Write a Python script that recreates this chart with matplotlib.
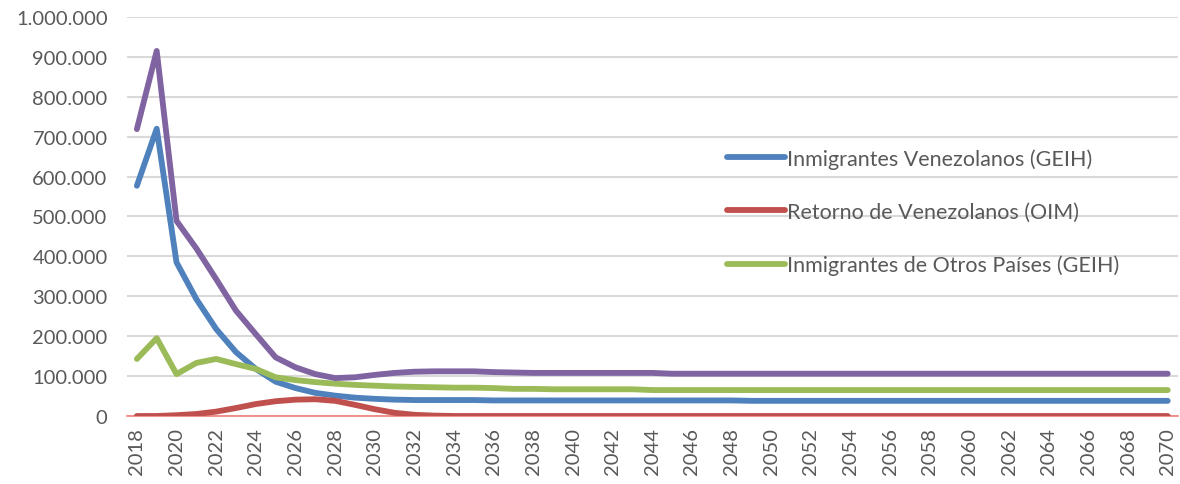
import matplotlib
matplotlib.use("Agg")
from matplotlib import pyplot as plt
from matplotlib.ticker import FuncFormatter, MultipleLocator

years = list(range(2018, 2071))

# miles de personas
venezolanos = [577, 720, 385, 293, 218, 160, 118, 86, 70, 58, 51, 46, 43, 41, 40, 40, 40, 40,
               39, 39, 39, 39, 39, 39, 39, 39, 39, 39, 39, 39, 39,
               38, 38, 38, 38, 38, 38, 38, 38, 38, 38, 38, 38, 38, 38, 38, 38, 38, 38, 38, 38, 38, 38]
retorno = [0, 0, 2, 5, 11, 20, 30, 37, 41, 42, 38, 28, 17, 8, 3, 1] + [0] * 37
otros = [143, 195, 105, 133, 143, 130, 118, 97, 90, 85, 81, 78, 76, 74, 73, 72, 71, 71, 70,
         68, 68, 67, 67, 67, 67, 67,
         65, 65, 65, 65, 65, 65, 65, 65, 65, 65, 65, 65, 65, 65, 65, 65, 65, 65, 65, 65, 65,
         65, 65, 65, 65, 65, 65]
total = [719, 915, 489, 420, 343, 264, 205, 147, 122, 105, 95, 97, 103, 108, 111, 112, 112, 112,
         110, 109, 108, 108, 108, 108, 108, 108, 108,
         106, 106, 106, 106, 106, 106, 106, 106, 106, 106, 106, 106, 106, 106, 106, 106, 106,
         106, 106, 106, 106, 106, 106, 106, 106, 106]

labels = ["Inmigrantes Venezolanos (GEIH)", "Retorno de Venezolanos (OIM)",
          "Inmigrantes de Otros Países (GEIH)"]

plt.rcParams['font.family'] = ['Lato', 'DejaVu Sans']
gris = "#595959"

fig = plt.figure(figsize=(11.8, 4.85), dpi=100)
ax = fig.add_axes([0.1076, 0.1402, 0.8904, 0.8227])

k = 1000
ax.plot(years, [v * k for v in venezolanos], color="#4F81BD", lw=4.2, solid_capstyle="round", zorder=3)
ax.plot(years, [v * k for v in retorno], color="#C0504D", lw=4.2, solid_capstyle="round", zorder=3)
ax.plot(years, [v * k for v in otros], color="#9BBB59", lw=4.2, solid_capstyle="round", zorder=3)
ax.plot(years, [v * k for v in total], color="#8064A2", lw=4.2, solid_capstyle="round", zorder=3)

ax.set_xlim(2017.5, 2070.5)
ax.set_ylim(0, 1000000)
ax.yaxis.set_major_locator(MultipleLocator(100000))
ax.yaxis.set_major_formatter(FuncFormatter(lambda v, p: f"{int(v):,}".replace(",", ".")))
ax.set_xticks(years[::2])
ax.tick_params(axis="x", labelrotation=90, length=0, pad=8, labelsize=14.5, labelcolor=gris)
ax.tick_params(axis="y", length=0, pad=14, labelsize=14.5, labelcolor=gris)

ax.grid(axis="y", color="#D9D9D9", lw=1.5, zorder=0)
for s in ["top", "right", "left"]:
    ax.spines[s].set_visible(False)
ax.spines["bottom"].set_color("#F4807B")
ax.spines["bottom"].set_linewidth(1.2)
ax.spines["bottom"].set_zorder(2)

ax.legend(ax.lines[:3], labels, loc="upper left", bbox_to_anchor=(0.616, 0.692),
          bbox_transform=fig.transFigure, frameon=False, fontsize=15.5,
          handlelength=2.7, handletextpad=0.1, labelspacing=1.53, labelcolor=gris,
          borderaxespad=0, borderpad=0)

fig.savefig("out.png", dpi=100)
